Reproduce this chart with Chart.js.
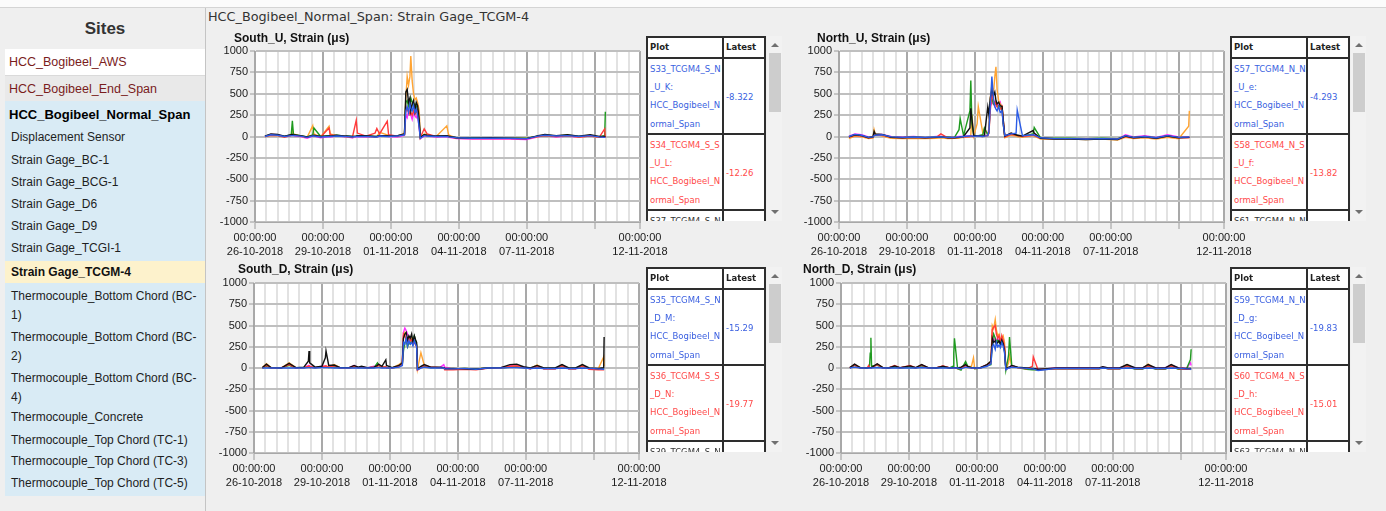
<!DOCTYPE html>
<html><head><meta charset="utf-8">
<script src="https://cdn.jsdelivr.net/npm/chart.js@4.4.1/dist/chart.umd.min.js"></script>
<style>
html,body{margin:0;padding:0;}
body{width:1386px;height:511px;overflow:hidden;background:#efefef;position:relative;font-family:"Liberation Sans",Arial,sans-serif;}
.a{position:absolute;white-space:nowrap;}
#topbar{left:0;top:0;width:1386px;height:7px;background:#fbfbfb;border-bottom:1px solid #d4d4d4;}
.sites{left:5px;top:8px;width:200px;height:41px;line-height:41px;text-align:center;font-weight:bold;font-size:17px;color:#333;}
.site{left:5px;width:196px;height:26px;line-height:26px;padding-left:4px;font-size:12.5px;color:#7a1c1c;}
.blue{left:5px;top:101px;width:200px;height:395px;background:#d9ebf5;}
.grp{left:9px;font-weight:bold;font-size:13px;color:#000;line-height:22px;}
.item{left:11px;font-size:12px;color:#1e1e1e;line-height:19px;}
.sel{left:5px;top:261px;width:194px;height:22px;line-height:22px;background:#fdf2cc;padding-left:6px;font-weight:bold;font-size:12px;color:#111;}
.vsep{left:205px;top:8px;width:1px;height:503px;background:#c4c4c4;}
.main{left:208px;top:9px;line-height:16px;font-family:"DejaVu Sans",sans-serif;font-size:12.8px;color:#333;}
.ct{font-weight:bold;font-size:12px;color:#111;line-height:14px;z-index:3;}
canvas{position:absolute;z-index:1;}
.lg{position:absolute;z-index:2;overflow:hidden;width:136px;height:185px;font-family:"DejaVu Sans",sans-serif;font-size:8.5px;}
.box{position:absolute;left:0;top:0;width:116px;height:400px;border:2px solid #2e2e2e;background:#fff;}
.hdr{position:absolute;top:0;height:19px;line-height:19px;font-weight:bold;color:#222;}
.hl{position:absolute;left:0;width:116px;height:2px;background:#2e2e2e;}
.vl{position:absolute;left:74px;top:0;width:2px;height:400px;background:#2e2e2e;}
.cell{position:absolute;left:2px;line-height:18.2px;}
.val{position:absolute;left:78px;}
.sb{position:absolute;left:121px;top:0;width:15px;height:185px;background:#f2f2f2;}
.thumb{position:absolute;left:2px;top:17px;width:12px;height:59px;background:#cdcdcd;}
.up{position:absolute;left:4px;top:7px;width:0;height:0;border-left:4px solid transparent;border-right:4px solid transparent;border-bottom:4px solid #707070;}
.dn{position:absolute;left:4px;top:174px;width:0;height:0;border-left:4px solid transparent;border-right:4px solid transparent;border-top:4px solid #707070;}
</style></head>
<body>
<div class="a" id="topbar"></div>
<div class="a sites">Sites</div>
<div class="a site" style="top:49px;background:#fff;">HCC_Bogibeel_AWS</div>
<div class="a site" style="top:75px;background:#e9e9e9;border-top:1px solid #dadada;height:25px;">HCC_Bogibeel_End_Span</div>
<div class="a blue"></div>
<div class="a grp" style="top:104px;">HCC_Bogibeel_Normal_Span</div>
<div class="a item" style="top:127.5px;">Displacement Sensor</div>
<div class="a item" style="top:151px;">Strain Gage_BC-1</div>
<div class="a item" style="top:173px;">Strain Gage_BCG-1</div>
<div class="a item" style="top:195px;">Strain Gage_D6</div>
<div class="a item" style="top:217px;">Strain Gage_D9</div>
<div class="a item" style="top:239px;">Strain Gage_TCGI-1</div>
<div class="a sel">Strain Gage_TCGM-4</div>
<div class="a item" style="top:287px;">Thermocouple_Bottom Chord (BC-<br>1)</div>
<div class="a item" style="top:327.5px;">Thermocouple_Bottom Chord (BC-<br>2)</div>
<div class="a item" style="top:368.5px;">Thermocouple_Bottom Chord (BC-<br>4)</div>
<div class="a item" style="top:407.5px;">Thermocouple_Concrete</div>
<div class="a item" style="top:430.5px;">Thermocouple_Top Chord (TC-1)</div>
<div class="a item" style="top:452px;">Thermocouple_Top Chord (TC-3)</div>
<div class="a item" style="top:473.5px;">Thermocouple_Top Chord (TC-5)</div>
<div class="a vsep"></div>
<div class="a main">HCC_Bogibeel_Normal_Span: Strain Gage_TCGM-4</div>

<div class="a ct" style="left:234px;top:31px;">South_U, Strain (μs)</div>
<div class="a ct" style="left:817px;top:31px;">North_U, Strain (μs)</div>
<div class="a ct" style="left:238px;top:262px;">South_D, Strain (μs)</div>
<div class="a ct" style="left:803px;top:262px;">North_D, Strain (μs)</div>

<canvas id="cSU" width="470" height="225" style="left:205px;top:40px;"></canvas>
<canvas id="cNU" width="470" height="225" style="left:789px;top:40px;"></canvas>
<canvas id="cSD" width="470" height="224" style="left:204px;top:272px;"></canvas>
<canvas id="cND" width="470" height="224" style="left:791px;top:272px;"></canvas>

<div class="lg" id="lSU" style="left:646px;top:36px;"></div>
<div class="lg" id="lNU" style="left:1230px;top:36px;"></div>
<div class="lg" id="lSD" style="left:646px;top:267px;"></div>
<div class="lg" id="lND" style="left:1230px;top:267px;"></div>

<script>
// ---- axis labels ----
const tickDays = [0, 3, 6, 9, 12, 17];
const tickTime = '00:00:00';
const tickDates = ['26-10-2018', '29-10-2018', '01-11-2018', '04-11-2018', '07-11-2018', '12-11-2018'];
const yMin = -1000, yMax = 1000, yStep = 250;

// ---- South_U ----
const suDays = [0.44,0.7,1.0,1.3,1.6,1.65,1.7,2.0,2.3,2.55,
  2.6,2.9,3.27,3.32,3.6,4.0,4.3,4.47,4.52,4.9,
  5.3,5.38,5.5,5.84,5.9,6.3,6.6,6.66,6.72,6.78,
  6.84,6.88,6.94,7.0,7.06,7.12,7.18,7.25,7.3,7.47,
  7.6,8.0,8.47,8.55,8.9,9.6,10.4,11.2,12.0,12.5,
  12.8,13.3,13.8,14.3,14.8,15.2,15.44,15.47];
const suBlue = [0,20,15,0,10,10,12,5,-10,5, 5,-5,0,0,5,0,-5,0,0,0, -5,-5,5,0,0,5,20,300,350,280,
  380,330,300,360,280,320,250,100,-20,10, 5,0,0,-5,-15,-20,-20,-20,-25,5, 15,5,10,0,10,-5,-10,-8];
const suBlack = [5,30,25,5,20,25,20,10,-5,10, 15,0,5,5,15,5,0,5,10,10, 0,0,10,10,5,10,30,520,550,400,
  450,300,380,420,300,400,360,200,-10,20, 15,5,10,5,-15,-20,-15,-20,-25,10, 25,10,20,5,20,0,0,-5];
const suRed = [0,15,10,-5,15,20,15,5,-10,10, 10,-5,100,20,10,0,-10,190,40,5, 40,95,30,180,20,5,25,350,300,320,
  260,280,250,300,260,280,300,120,-15,90, 30,0,5,0,-20,-25,-25,-25,-25,0, 10,0,10,-5,5,-10,90,-12];
const suGreen = [5,20,15,0,20,185,20,10,-5,20, 100,0,10,10,15,5,0,5,10,5, 0,0,10,10,5,10,25,400,420,350,
  380,450,400,350,380,350,300,150,-10,20, 10,5,5,0,-15,-15,-20,-20,-20,5, 15,5,15,0,10,-5,10,290];
const suOrange = [-5,15,10,-5,15,80,30,5,-10,127, 30,-5,120,30,10,0,-10,5,5,0, -5,-5,50,20,10,0,40,450,700,600,
  700,940,650,500,430,450,400,300,-20,30, 20,0,125,20,-20,-15,-15,-15,-20,0, 10,0,10,-5,5,-5,5,10];
const suMagenta = [0,25,20,-5,10,15,10,0,-20,5, 5,-15,0,-5,5,-5,-15,-5,0,-5, -10,-10,5,5,0,-5,15,250,220,300,
  280,250,200,280,240,220,260,100,-25,5, 5,-5,0,-10,-25,-30,-30,-30,-35,-5, 10,-5,5,-10,10,-10,-5,-5];

// ---- North_U ----
const nuDays = [0.44,0.7,1.0,1.3,1.5,1.55,1.6,1.9,2.3,2.8,
  3.3,3.8,4.3,4.5,4.8,5.1,5.3,5.35,5.5,5.78,
  5.82,5.87,5.95,6.1,6.15,6.35,6.42,6.57,6.62,6.68,
  6.75,6.82,6.88,6.93,6.98,7.05,7.12,7.2,7.25,7.32,
  7.6,7.82,7.87,8.1,8.57,8.62,8.9,9.5,10.2,10.9,
  11.6,12.3,12.65,13.0,13.5,14.0,14.5,15.0,15.44,15.47];
const nuBlue = [0,25,15,-10,-5,10,15,20,-5,-10, -5,-10,-5,-5,-10,-10,-5,-5,0,5, 5,5,0,5,5,0,5,10,60,350,
  700,450,350,320,300,350,280,300,150,10, 30,40,310,10,20,15,-15,-25,-25,-30, -25,-30,10,-10,0,-15,10,-10,-5,-4];
const nuBlack = [-5,20,10,-15,-5,60,30,25,-10,-15, -10,-15,-10,-5,-15,-15,-10,-5,0,100, 330,200,10,10,10,5,10,345,250,450,
  550,480,520,420,380,400,360,350,200,5, 40,20,15,5,70,40,-20,-30,-30,-35, -30,-35,5,-15,-5,-20,5,-15,-10,-10];
const nuRed = [-10,15,5,-15,-10,20,15,15,-10,-15, -10,-15,-10,30,-15,-15,-10,-10,-5,0, 5,0,0,5,5,0,5,10,40,300,
  500,420,380,400,350,330,320,350,200,-5, 25,15,10,0,15,10,-20,-25,-25,-30, -25,-30,0,-15,-5,-20,5,-15,-15,-14];
const nuGreen = [-5,20,10,-10,-5,15,20,20,-5,-10, -5,-10,-5,-5,-5,-10,80,210,10,300, 655,150,10,10,10,20,100,20,40,400,
  450,380,400,380,350,360,340,330,150,0, 30,20,15,5,30,105,-15,-20,-20,-25, -20,-25,5,-10,0,-15,5,-10,-10,-10];
const nuOrange = [-25,5,-5,-25,-20,80,30,5,-20,-25, -20,-25,-20,-15,-25,-20,-20,-15,-10,-5, 20,250,5,150,350,40,90,30,60,450,
  600,500,700,815,550,420,380,350,180,-15, 15,5,0,-10,10,5,-30,-30,-30,-35, -30,-40,-10,-25,-15,-30,-10,-25,120,300];
const nuMagenta = [5,30,20,-5,0,15,20,25,0,-5, 0,-10,0,0,-5,-5,0,0,5,10, 10,5,5,10,10,5,10,15,100,350,
  400,380,350,400,380,360,400,320,150,5, 35,20,15,5,25,20,-15,-25,-25,-30, -25,-30,20,-5,10,-10,20,-5,-5,-5];

// ---- South_D ----
const sdDays = [0.37,0.55,0.75,1.2,1.55,1.85,2.2,2.4,2.43,2.46,
  2.7,3.0,3.15,3.18,3.3,3.54,3.8,4.2,4.42,4.6,
  4.75,5.0,5.3,5.45,5.5,5.65,5.82,5.85,6.1,6.4,
  6.55,6.6,6.66,6.72,6.78,6.84,6.9,6.96,7.02,7.08,
  7.14,7.18,7.22,7.37,7.52,7.8,8.2,8.38,8.42,8.8,
  9.3,9.8,10.3,10.9,11.3,11.6,11.9,12.2,12.5,12.8,
  13.3,13.6,13.9,14.2,14.5,14.8,15.2,15.44,15.46];
const sdBlue = [0,0,0,0,0,0,0,5,5,5, 0,5,5,5,5,0,0,0,0,0, 0,0,0,5,5,0,0,0,0,10,
  30,300,280,350,260,320,280,300,260,320, 280,250,-20,0,10,0,0,0,-10,-10, -5,-15,0,0,5,5,0,-5,0,-5, -5,0,-5,-5,0,-5,-10,-15,-15];
const sdBlack = [5,45,5,0,55,5,10,80,200,60, 10,20,120,200,30,35,5,5,30,10, 20,5,10,30,45,20,95,30,5,30,
  60,350,400,420,330,380,350,400,300,380, 330,300,-10,20,40,10,10,5,-5,-5, -10,-15,0,5,40,45,15,0,30,0, 0,40,0,0,40,0,-5,5,365];
const sdRed = [0,30,0,0,40,0,5,20,25,15, 5,15,20,25,10,25,0,0,20,5, 10,0,10,20,35,10,15,5,0,20,
  50,400,380,330,300,350,320,330,280,300, 270,260,-25,5,30,10,5,0,-20,-20, -15,-20,-5,0,20,25,5,-10,20,-10, -10,25,-10,-10,25,-15,-20,-20,-20];
const sdGreen = [0,20,0,0,30,0,5,10,15,10, 5,10,10,10,5,15,0,0,15,5, 5,0,5,60,30,10,10,5,0,20,
  40,200,300,320,250,300,280,320,350,380, 300,280,-15,10,20,5,5,0,-10,-10, -5,-10,0,0,10,15,5,-5,15,-5, -5,20,-5,-5,20,-5,-10,-10,-10];
const sdOrange = [5,50,5,0,60,5,5,15,20,10, 5,10,20,15,10,40,5,5,20,5, 10,0,10,25,40,10,10,5,0,40,
  70,380,420,380,300,330,300,350,280,320, 290,260,-10,180,30,10,5,0,-10,-10, -5,-10,0,0,15,20,5,-5,35,-5, -5,30,-5,-5,35,-10,-10,130,20];
const sdMagenta = [0,35,0,0,45,0,5,30,30,20, 5,20,25,20,10,30,5,5,30,5, 15,0,20,25,30,15,10,5,0,25,
  50,420,470,440,400,350,330,360,300,330, 300,250,-20,10,30,10,5,40,10,-15, -10,-15,0,5,25,30,10,-10,25,-10, -10,35,-10,-10,30,-10,-15,-10,-10];

// ---- North_D ----
const ndDays = [0.39,0.6,0.85,1.15,1.22,1.26,1.29,1.32,1.35,1.6,
  1.85,2.1,2.37,2.6,3.05,3.3,3.56,3.85,4.2,4.5,
  4.8,4.95,4.98,5.01,5.15,5.3,5.5,5.6,5.76,5.85,
  5.9,6.15,6.45,6.62,6.68,6.74,6.81,6.86,6.92,6.98,
  7.04,7.1,7.16,7.22,7.28,7.4,7.44,7.54,7.8,8.2,
  8.45,8.49,8.7,9.0,9.5,10.2,10.9,11.4,11.56,11.8,
  12.3,12.63,13.0,13.3,13.56,13.9,14.3,14.58,14.9,15.25,
  15.43,15.46];
const ndBlue = [0,10,0,0,0,0,0,0,0,5, 0,0,0,0,0,0,5,0,0,0, 0,0,0,0,0,-10,10,5,0,0,
  0,0,20,50,250,280,220,300,250,270, 240,300,260,180,-20,0,0,10,5,-5, -10,-10,-30,-20,-5,-5,-5,-5,0,-5,
  -5,0,-5,-5,0,-5,-5,0,-5,-10, -10,-20];
const ndBlack = [5,45,5,0,5,5,5,5,5,50, 5,0,25,5,25,5,40,5,0,20, 0,5,5,5,0,10,40,20,5,5,
  0,5,40,80,350,300,320,280,300,320, 280,330,290,200,-10,10,10,30,10,0, -5,-5,-15,-10,0,0,0,0,15,0,
  0,40,0,0,40,0,0,40,0,-5, -5,-5];
const ndRed = [0,35,0,0,30,5,5,5,5,40, 0,0,30,0,30,0,35,0,0,25, 0,0,0,0,-5,-5,30,10,0,0,
  -5,0,35,60,450,480,500,400,350,380, 300,380,320,250,-15,5,5,25,5,-10, 20,130,-20,-15,-10,-10,-10,-10,5,-10,
  -10,25,-10,-10,25,-10,-10,25,-10,-15, -15,-15];
const ndGreen = [0,30,0,0,5,30,175,355,20,35, 0,0,15,0,15,0,25,0,0,15, 0,20,170,350,-10,-25,75,20,0,5,
  -10,0,30,40,300,400,350,300,330,300, 280,320,300,220,-25,150,365,30,5,-15, -20,-20,-20,-15,-10,-10,-10,-10,5,-10,
  -10,20,-15,-15,20,-15,-15,20,-15,-15, 100,220];
const ndOrange = [5,40,5,0,5,5,5,5,5,45, 5,0,20,0,20,0,35,0,0,20, 0,0,0,0,-5,-10,35,15,20,120,
  0,0,40,80,500,460,570,450,380,400, 330,350,380,300,-15,60,150,25,5,-10, -15,-15,-25,-15,-10,-10,-10,-10,10,-10,
  -10,40,-10,-10,45,-10,-10,35,-10,-15, -10,-10];
const ndMagenta = [0,40,0,0,5,5,5,5,5,45, 0,0,20,0,20,0,35,0,0,20, 0,0,0,0,0,-5,35,15,5,5,
  0,5,40,70,380,320,350,330,350,320, 300,340,360,250,-20,5,5,30,5,-5, -10,-10,-15,-10,0,0,0,0,10,0,
  0,30,0,0,30,0,0,35,0,-5, 60,30];

// ---- legend tables ----
const suLegend = [['S33_TCGM4_S_N','_U_K:'], ['S34_TCGM4_S_S','_U_L:'], ['S37_TCGM4_S_N']];
const suLatest = ['-8.322', '-12.26'];
const nuLegend = [['S57_TCGM4_N_N','_U_e:'], ['S58_TCGM4_N_S','_U_f:'], ['S61_TCGM4_N_N']];
const nuLatest = ['-4.293', '-13.82'];
const sdLegend = [['S35_TCGM4_S_N','_D_M:'], ['S36_TCGM4_S_S','_D_N:'], ['S39_TCGM4_S_N']];
const sdLatest = ['-15.29', '-19.77'];
const ndLegend = [['S59_TCGM4_N_N','_D_g:'], ['S60_TCGM4_N_S','_D_h:'], ['S63_TCGM4_N_N']];
const ndLatest = ['-19.83', '-15.01'];
const siteLines = ['HCC_Bogibeel_N', 'ormal_Span'];

// ---- styles ----
const lineColors = ['#2b5ce6', '#111111', '#ff3b3b', '#1f9a1f', '#ffa433', '#ff30ff'];
const legendColors = ['#3a5fe0', '#ff4a4a', '#333333'];

const plotBg = {
  id: 'plotBg',
  beforeDraw(chart) {
    const a = chart.chartArea, ctx = chart.ctx;
    ctx.save(); ctx.fillStyle = '#ffffff';
    ctx.fillRect(a.left, a.top, a.right - a.left, a.bottom - a.top);
    ctx.restore();
  }
};
const isMajor = v => (Math.abs(v % 3) < 1e-9) || v === 17;
const tickFont = {family: '"Liberation Sans", Arial, sans-serif', size: 11, lineHeight: 1.28};

function makeChart(id, days, seriesList) {
  const datasets = seriesList.map((vals, k) => ({
    data: days.map((d, i) => ({x: d, y: vals[i]})),
    borderColor: lineColors[k],
    borderWidth: 1.4,
    pointRadius: 0,
    tension: 0,
    fill: false
  }));
  new Chart(document.getElementById(id), {
    type: 'line',
    data: {datasets},
    plugins: [plotBg],
    options: {
      responsive: false, animation: false, devicePixelRatio: 1,
      layout: {padding: {left: 0, top: 11, right: 35, bottom: 0}},
      plugins: {legend: {display: false}, title: {display: false}, tooltip: {enabled: false}},
      scales: {
        x: {
          type: 'linear', min: 0, max: 17,
          afterBuildTicks: s => { const t = []; for (let k = 0; k <= 34; k++) t.push({value: k / 2}); s.ticks = t; },
          afterFit: s => { s.height = 43; },
          grid: {
            color: c => isMajor(c.tick.value) ? '#a9a9a9' : '#e2e2e2',
            lineWidth: 2, tickLength: 7, tickWidth: 1,
            tickColor: c => isMajor(c.tick.value) ? '#9a9a9a' : 'rgba(0,0,0,0)'
          },
          border: {display: true, color: '#a8a8a8', width: 1},
          ticks: {
            autoSkip: false, maxRotation: 0, minRotation: 0, padding: 2, color: '#1a1a1a', font: tickFont,
            callback: v => { const i = tickDays.indexOf(v); return i < 0 ? '' : [tickTime, tickDates[i]]; }
          }
        },
        y: {
          min: yMin, max: yMax,
          afterFit: s => { s.width = 50; },
          grid: {color: '#bfbfbf', lineWidth: 2, tickLength: 5, tickWidth: 1, tickColor: '#9a9a9a'},
          border: {display: true, color: '#a8a8a8', width: 1},
          ticks: {stepSize: yStep, padding: 2, color: '#1a1a1a', font: tickFont, callback: v => String(v)}
        }
      }
    }
  });
}

makeChart('cSU', suDays, [suBlue, suBlack, suRed, suGreen, suOrange, suMagenta]);
makeChart('cNU', nuDays, [nuBlue, nuBlack, nuRed, nuGreen, nuOrange, nuMagenta]);
makeChart('cSD', sdDays, [sdBlue, sdBlack, sdRed, sdGreen, sdOrange, sdMagenta]);
makeChart('cND', ndDays, [ndBlue, ndBlack, ndRed, ndGreen, ndOrange, ndMagenta]);

function makeLegend(id, rows, latest) {
  const el = document.getElementById(id);
  let h = '<div class="box">';
  h += '<div class="hdr" style="left:2px;">Plot</div><div class="hdr" style="left:78px;">Latest</div>';
  h += '<div class="vl"></div><div class="hl" style="top:19px;"></div>';
  const rowTop = [21, 97, 173];
  rows.forEach((r, i) => {
    const lines = r.length > 1 ? r.concat(siteLines) : r;
    h += '<div class="cell" style="top:' + (rowTop[i] + 1) + 'px;color:' + legendColors[i] + ';">' + lines.join('<br>') + '</div>';
    if (latest[i] !== undefined) {
      h += '<div class="val" style="top:' + (rowTop[i] + 31) + 'px;line-height:14px;color:' + legendColors[i] + ';">' + latest[i] + '</div>';
      h += '<div class="hl" style="top:' + (rowTop[i] + 74) + 'px;"></div>';
    }
  });
  h += '</div>';
  h += '<div class="sb"><div class="up"></div><div class="thumb"></div><div class="dn"></div></div>';
  el.innerHTML = h;
}
makeLegend('lSU', suLegend, suLatest);
makeLegend('lNU', nuLegend, nuLatest);
makeLegend('lSD', sdLegend, sdLatest);
makeLegend('lND', ndLegend, ndLatest);
</script>
</body></html>
